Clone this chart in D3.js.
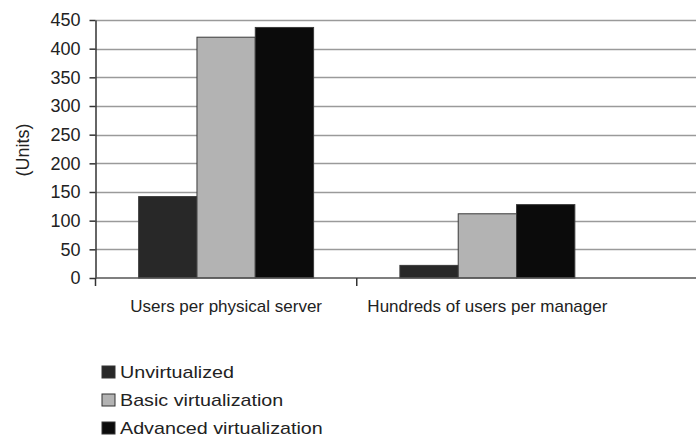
<!DOCTYPE html>
<html>
<head>
<meta charset="utf-8">
<script src="https://cdn.jsdelivr.net/npm/d3@7"></script>
<style>
  body { margin: 0; background: #fff; }
  text { font-family: "Liberation Sans", Arial, sans-serif; fill: #222; }
</style>
</head>
<body>
<div id="chart"></div>
<script>
// chart data
let categories = ["Users per physical server", "Hundreds of users per manager"];
let seriesNames = ["Unvirtualized", "Basic virtualization", "Advanced virtualization"];
let unvirtualized = [142, 22];
let basicVirt = [420, 112];
let advancedVirt = [437, 128];
let yTicks = [0, 50, 100, 150, 200, 250, 300, 350, 400, 450];

let colors = ["#282828", "#b3b3b3", "#0b0b0b"];

let width = 696, height = 438;
let margin = {top: 20, left: 95.5};
let plotRight = 618;   // end of the category band
let gridRight = 696;   // gridlines run to the edge

let svg = d3.select("#chart").append("svg")
    .attr("width", width)
    .attr("height", height);

let y = d3.scaleLinear()
    .domain([0, 450])
    .range([278, margin.top]);

let x = d3.scaleBand()
    .domain(categories)
    .range([margin.left, plotRight]);

let xInner = d3.scaleBand()
    .domain(seriesNames)
    .range([0, x.bandwidth()])
    .paddingOuter(0.74)
    .paddingInner(0);

// gridlines
svg.append("g")
    .selectAll("line")
    .data(yTicks.filter(d => d > 0))
    .enter()
    .append("line")
    .attr("x1", margin.left)
    .attr("x2", gridRight)
    .attr("y1", d => Math.round(y(d)) + 0.5)
    .attr("y2", d => Math.round(y(d)) + 0.5)
    .attr("stroke", "#9a9a9a")
    .attr("stroke-width", 1.5);

// bars
let rows = categories.map((c, i) => ({
    cat: c,
    values: [unvirtualized[i], basicVirt[i], advancedVirt[i]]
}));

let groups = svg.append("g")
    .selectAll("g")
    .data(rows)
    .enter()
    .append("g")
    .attr("transform", d => `translate(${x(d.cat)},0)`);

groups.selectAll("rect")
    .data(d => d.values.map((v, j) => ({name: seriesNames[j], value: v, idx: j})))
    .enter()
    .append("rect")
    .attr("x", d => xInner(d.name))
    .attr("y", d => y(d.value))
    .attr("width", xInner.bandwidth())
    .attr("height", d => y(0) - y(d.value))
    .attr("fill", d => colors[d.idx])
    .attr("stroke", "#3a3a3a")
    .attr("stroke-width", 1);

// y axis
let yAxis = d3.axisLeft(y)
    .tickValues(yTicks)
    .tickSize(6)
    .tickSizeOuter(0)
    .tickPadding(9);

let yg = svg.append("g")
    .attr("transform", `translate(${margin.left},0)`)
    .call(yAxis);
yg.select(".domain").attr("stroke", "#333").attr("stroke-width", 1.5);
yg.selectAll(".tick line").attr("stroke", "#333").attr("stroke-width", 1.5);
yg.selectAll(".tick text")
    .attr("font-size", "18px")
    .attr("fill", "#222");

// x axis baseline
svg.append("line")
    .attr("x1", margin.left)
    .attr("x2", gridRight)
    .attr("y1", y(0))
    .attr("y2", y(0))
    .attr("stroke", "#555")
    .attr("stroke-width", 1.5);

// x ticks between categories
let xTickPos = [margin.left, x(categories[1])];
svg.append("g")
    .selectAll("line")
    .data(xTickPos)
    .enter()
    .append("line")
    .attr("x1", d => d)
    .attr("x2", d => d)
    .attr("y1", y(0))
    .attr("y2", y(0) + 8)
    .attr("stroke", "#333")
    .attr("stroke-width", 1.5);

// x labels
svg.append("g")
    .selectAll("text")
    .data(categories)
    .enter()
    .append("text")
    .attr("x", d => x(d) + x.bandwidth() / 2)
    .attr("y", 312)
    .attr("text-anchor", "middle")
    .attr("font-size", "17px")
    .text(d => d);

// y axis title
svg.append("text")
    .attr("transform", "translate(29,150) rotate(-90)")
    .attr("text-anchor", "middle")
    .attr("font-size", "18px")
    .text("(Units)");

// legend
let legend = svg.append("g")
    .selectAll("g")
    .data(seriesNames)
    .enter()
    .append("g")
    .attr("transform", (d, i) => `translate(102,${366 + i * 28})`);

legend.append("rect")
    .attr("width", 13)
    .attr("height", 12)
    .attr("fill", (d, i) => colors[i])
    .attr("stroke", "#333")
    .attr("stroke-width", 1);

legend.append("text")
    .attr("transform", "translate(18,12) scale(1.16,1)")
    .attr("font-size", "17px")
    .text(d => d);
</script>
</body>
</html>
